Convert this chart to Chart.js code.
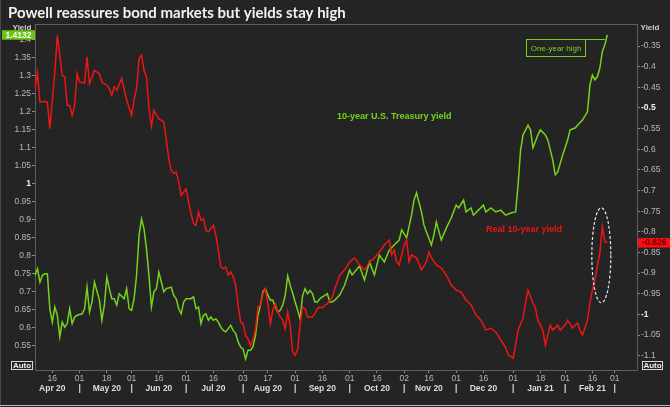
<!DOCTYPE html>
<html><head><meta charset="utf-8">
<script src="https://cdn.jsdelivr.net/npm/chart.js@4.4.1/dist/chart.umd.min.js"></script>
<style>html,body{margin:0;padding:0;background:#232323;}canvas{display:block;}</style>
</head><body>
<canvas id="c" width="670" height="407"></canvas>
<script>
// ---- categories: every weekday from 7 Apr 2020 to 12 Mar 2021 ----
const firstDay = '2020-04-07';
const lastDay = '2021-03-12';
const days = [];
for (let d = new Date(firstDay + 'T00:00:00Z'); d <= new Date(lastDay + 'T00:00:00Z'); d.setUTCDate(d.getUTCDate() + 1)) {
  const w = d.getUTCDay();
  if (w !== 0 && w !== 6) days.push(d.toISOString().slice(0, 10));
}

// ---- 10-year U.S. Treasury yield (left axis), one value per weekday ----
const usYield = [
  0.745, 0.763, 0.726, 0.745, 0.749, 0.749, 0.652, 0.615, 0.657, 0.634,
  0.574, 0.615, 0.601, 0.611, 0.652, 0.611, 0.629, 0.634, null, 0.638,
  0.652, 0.712, 0.643, 0.671, 0.726, null, 0.676, 0.620, 0.662, 0.740,
  0.708, 0.680, 0.680, 0.662, 0.694, null, 0.680, 0.708, 0.652, 0.648,
  0.680, 0.745, 0.856, 0.902, 0.874, 0.819, 0.745, 0.657, 0.699, 0.708,
  0.754, 0.726, 0.699, 0.708, null, 0.712, 0.689, 0.680, 0.652, 0.638,
  0.671, 0.680, null, 0.680, 0.685, 0.652, 0.657, 0.611, 0.634, 0.638,
  0.620, 0.629, 0.620, 0.624, 0.615, 0.601, 0.592, 0.588, 0.597, 0.606,
  0.592, 0.583, 0.560, 0.546, 0.540, 0.513, 0.537, 0.537, 0.546, 0.578,
  0.634, 0.662, 0.700, 0.708, 0.690, 0.676, 0.676, 0.657, 0.643, 0.648,
  0.662, 0.689, 0.743, 0.717, 0.696, 0.671, 0.649, 0.624, 0.688, 0.708,
  0.694, 0.703, 0.694, 0.671, 0.671, 0.680, 0.685, 0.689, 0.694, 0.671,
  0.671, 0.676, null, 0.690, null, 0.718, null, 0.760, 0.746, null,
  null, 0.771, null, 0.732, null, 0.782, null, 0.746, null, 0.801,
  null, 0.782, null, 0.815, null, 0.829, null, 0.843, 0.871, null,
  0.849, null, 0.912, 0.954, 0.974, null, 0.921, 0.885, 0.865, null,
  0.829, 0.857, 0.893, null, 0.843, null, 0.876, null, 0.904, null,
  0.940, 0.932, null, 0.954, 0.921, null, 0.932, 0.912, null, 0.926,
  null, 0.940, 0.921, null, 0.932, null, 0.921, null, 0.926, null,
  0.912, null, 0.918, null, 0.921, 0.996, 1.093, 1.135, null, 1.162,
  1.149, 1.099, null, 1.135, 1.149, null, 1.135, 1.121, null, 1.065,
  1.024, 1.032, null, 1.079, null, 1.121, 1.149, null, 1.154, 1.162,
  null, 1.176, null, 1.199, 1.274, 1.301, 1.288, 1.297, 1.320, 1.366,
  1.385, 1.4132
];

// ---- Real 10-year yield (right axis), one value per weekday ----
const realYield = [
  -0.452, -0.415, -0.486, null, -0.484, -0.487, -0.550, null, -0.413, -0.324,
  null, -0.421, -0.425, -0.494, -0.494, -0.518, -0.494, -0.417, -0.437, null,
  -0.440, -0.377, -0.441, null, -0.409, null, -0.417, -0.437, null, -0.445,
  -0.453, -0.469, -0.449, -0.457, null, -0.429, null, -0.481, null, -0.518,
  -0.480, -0.453, -0.381, -0.372, -0.409, -0.425, -0.500, -0.545, -0.506, null,
  -0.526, -0.530, -0.534, -0.578, -0.623, -0.651, -0.659, -0.655, -0.679, -0.712,
  -0.704, -0.696, -0.728, -0.756, -0.780, -0.784, -0.752, -0.772, -0.768, -0.796,
  -0.800, null, -0.784, -0.808, -0.845, -0.885, -0.889, -0.885, -0.905, -0.897,
  -0.909, -0.930, -0.978, -1.018, -1.023, -1.051, -1.060, -1.075, -1.060, -1.035,
  -0.982, -0.978, -0.950, -0.938, -0.975, -1.023, -0.990, -0.974, -0.994, -1.006,
  -1.014, -1.035, -0.994, -1.026, -1.091, -1.099, -1.085, -1.026, -0.982, -0.986,
  -1.006, -1.006, -1.006, -0.998, -0.986, -0.982, -0.984, -0.978, -0.974, -0.966,
  -0.958, -0.938, -0.922, -0.905, null, -0.892, null, -0.873, null, -0.863,
  null, -0.880, null, -0.892, null, -0.873, null, -0.863, null, -0.849,
  null, -0.832, null, -0.820, -0.856, -0.844, -0.873, -0.880, null, -0.832,
  -0.820, -0.873, -0.856, null, -0.863, null, -0.892, null, -0.873, -0.849,
  -0.863, null, -0.880, null, -0.888, null, -0.905, null, -0.929, null,
  -0.941, null, -0.946, null, -0.965, null, -0.977, null, -1.001, null,
  -1.014, null, -1.038, null, -1.033, null, -1.043, null, -1.062, null,
  -1.081, -1.098, null, -1.106, -1.074, -1.038, null, -1.009, -0.972, -0.941,
  null, -0.973, -0.985, -1.014, null, -1.038, -1.074, -1.050, -1.026, -1.038,
  null, -1.026, -1.038, null, -1.026, -1.014, null, -1.033, null, -1.021,
  -1.038, -1.050, null, -1.014, -0.973, -0.941, -0.917, -0.883, -0.851, -0.788,
  -0.824, -0.826
];

// ---- tick labels ----
const tickDates = ['2020-04-16','2020-05-01','2020-05-18','2020-06-01','2020-06-16','2020-07-01','2020-07-16','2020-08-03','2020-08-17','2020-09-01','2020-09-16','2020-10-01','2020-10-16','2020-11-02','2020-11-16','2020-12-01','2020-12-16','2021-01-01','2021-01-18','2021-02-01','2021-02-16','2021-03-01'];
const tickDayLabels = ['16','01','18','01','16','01','16','03','17','01','16','01','16','02','16','01','16','01','18','01','16','01'];
const tickMonthLabels = ['Apr 20','|','May 20','|','Jun 20','|','Jul 20','|','Aug 20','|','Sep 20','|','Oct 20','|','Nov 20','|','Dec 20','|','Jan 21','|','Feb 21','|'];
const leftTicks = [0.55,0.6,0.65,0.7,0.75,0.8,0.85,0.9,0.95,1,1.05,1.1,1.15,1.2,1.25,1.3,1.35,1.4];
const rightTicks = [-1.1,-1.05,-1,-0.95,-0.9,-0.85,-0.8,-0.75,-0.7,-0.65,-0.6,-0.55,-0.5,-0.45,-0.4,-0.35];

const GREEN = '#76d31c';
const RED = '#f01414';
const AX = '#5e5e5e';
const FONT = 'Liberation Sans';
const fmt = v => String(+v.toFixed(2));

const dateTicks = s => { s.ticks = tickDates.map(d => ({ value: days.indexOf(d) })); };

const bgPlugin = {
  id: 'bg',
  beforeDraw(c) {
    const g = c.ctx; g.save();
    g.fillStyle = '#242424'; g.fillRect(0, 0, c.width, c.height);
    g.restore();
  }
};

const annot = {
  id: 'annot',
  afterDraw(c) {
    const g = c.ctx, a = c.chartArea;
    const y1 = c.scales.y, y2 = c.scales.y2, x = c.scales.x;
    g.save();
    // frame
    g.strokeStyle = AX; g.lineWidth = 1;
    g.beginPath(); g.moveTo(a.left, a.top + 0.5); g.lineTo(a.right, a.top + 0.5); g.stroke();
    g.strokeStyle = '#4a4a4a';
    g.beginPath(); g.moveTo(0.5, 0); g.lineTo(0.5, c.height); g.stroke();
    g.strokeStyle = '#bdbdbd';
    g.beginPath(); g.moveTo(0, c.height - 1.5); g.lineTo(c.width, c.height - 1.5); g.stroke();
    // title
    g.fillStyle = '#f2f2f2'; g.font = 'bold 15px Lato'; g.textBaseline = 'alphabetic'; g.textAlign = 'left';
    g.fillText('Powell reassures bond markets but yields stay high', 8, 18);
    // Yield headers
    g.font = 'bold 8px ' + FONT; g.fillStyle = '#cfcfcf'; g.textBaseline = 'middle';
    g.textAlign = 'center'; g.fillText('Yield', 22, 28); g.fillText('Yield', 650, 28);
    // last value boxes
    const lastG = usYield[usYield.length - 1];
    const gy = y1.getPixelForValue(lastG);
    g.fillStyle = '#6cc417'; g.fillRect(2, gy - 4.5, a.left - 2, 9.5);
    g.fillStyle = '#f4fff0'; g.font = 'bold 8.5px ' + FONT; g.textAlign = 'center';
    g.fillText(lastG.toFixed(4), (2 + a.left) / 2, gy + 0.5);
    const lastR = realYield[realYield.length - 1];
    const ry = y2.getPixelForValue(lastR);
    g.fillStyle = '#ff0d0d'; g.fillRect(a.right + 1, ry - 4.5, c.width - a.right - 1, 9.5);
    g.fillStyle = '#5a0000'; g.fillText(lastR.toFixed(3), (a.right + c.width) / 2 + 1, ry + 0.5);
    // Auto boxes
    g.font = 'bold 8px ' + FONT; g.fillStyle = '#eeeeee'; g.strokeStyle = '#d8d8d8';
    g.strokeRect(11.5, 361.5, 21, 8); g.fillText('Auto', 22, 366);
    g.strokeRect(642.5, 361.5, 20, 8); g.fillText('Auto', 652.5, 366);
    // series labels
    g.font = 'bold 9px ' + FONT; g.textAlign = 'left';
    g.fillStyle = GREEN; g.fillText('10-year U.S. Treasury yield', 337, 117);
    g.fillStyle = RED; g.fillText('Real 10-year yield', 486, 230);
    // One-year high callout
    const hx = x.getPixelForValue(usYield.length - 2);
    g.strokeStyle = GREEN; g.lineWidth = 1;
    g.strokeRect(526.5, 39.5, 59, 17);
    g.beginPath(); g.moveTo(585.5, 39.5); g.lineTo(hx, 39.5); g.stroke();
    g.fillStyle = GREEN; g.font = '8px ' + FONT; g.textAlign = 'center';
    g.fillText('One-year high', 556, 48.5);
    // dashed ellipse around real-yield jump
    const ex = x.getPixelForValue(228.6), ey = y2.getPixelForValue(-0.857);
    g.setLineDash([3, 2]); g.strokeStyle = '#e8e8e8'; g.lineWidth = 1.2;
    g.beginPath(); g.ellipse(ex, ey, 9.5, 47.5, 0, 0, Math.PI * 2); g.stroke();
    g.restore();
  }
};

new Chart(document.getElementById('c'), {
  type: 'line',
  data: {
    labels: days,
    datasets: [
      { label: 'Real 10-year yield', data: realYield, yAxisID: 'y2', xAxisID: 'x', borderColor: RED, borderWidth: 1.5, pointRadius: 0, spanGaps: true, tension: 0 },
      { label: '10-year U.S. Treasury yield', data: usYield, yAxisID: 'y', xAxisID: 'x', borderColor: GREEN, borderWidth: 1.5, pointRadius: 0, spanGaps: true, tension: 0 }
    ]
  },
  options: {
    responsive: false, animation: false, devicePixelRatio: 1,
    layout: { padding: { top: 24, left: 0, right: 0, bottom: 0 } },
    plugins: { legend: { display: false }, tooltip: { enabled: false }, title: { display: false } },
    scales: {
      x: {
        type: 'category', position: 'bottom', offset: false,
        grid: { drawOnChartArea: false, drawTicks: true, tickLength: 3, color: '#8a8a8a' },
        border: { display: true, color: AX },
        ticks: { autoSkip: false, maxRotation: 0, padding: 1, color: '#b4b4b4', font: { family: FONT, size: 8.5 }, callback: (v, i) => tickDayLabels[i] },
        afterBuildTicks: dateTicks,
        afterFit: s => { s.height = 14; }
      },
      x2: {
        type: 'category', position: 'bottom', offset: false,
        grid: { display: false, drawTicks: false }, border: { display: false },
        ticks: { autoSkip: false, maxRotation: 0, padding: 0, color: '#dcdcdc', font: { family: FONT, size: 8.5, weight: 'bold' }, callback: (v, i) => tickMonthLabels[i] },
        afterBuildTicks: dateTicks,
        afterFit: s => { s.height = 23; }
      },
      y: {
        type: 'linear', position: 'left', min: 0.482, max: 1.443,
        grid: { drawOnChartArea: false, tickLength: 3, color: '#8a8a8a' },
        border: { display: true, color: AX },
        ticks: { padding: 1, autoSkip: false, color: ctx => ctx.tick && ctx.tick.value === 1 ? '#f0f0f0' : '#b8b8b8',
          font: ctx => ({ family: FONT, size: 8.5, weight: ctx.tick && ctx.tick.value === 1 ? 'bold' : 'normal' }), callback: v => fmt(v) },
        afterBuildTicks: s => { s.ticks = leftTicks.map(v => ({ value: v })); },
        afterFit: s => { s.width = 35; }
      },
      y2: {
        type: 'linear', position: 'right', min: -1.1346, max: -0.2967,
        grid: { drawOnChartArea: false, tickLength: 3, color: '#8a8a8a' },
        border: { display: true, color: AX },
        ticks: { padding: 1, autoSkip: false, color: ctx => ctx.tick && (ctx.tick.value === -1 || ctx.tick.value === -0.5) ? '#f0f0f0' : '#b8b8b8',
          font: ctx => ({ family: FONT, size: 8.5, weight: ctx.tick && (ctx.tick.value === -1 || ctx.tick.value === -0.5) ? 'bold' : 'normal' }), callback: v => fmt(v) },
        afterBuildTicks: s => { s.ticks = rightTicks.map(v => ({ value: v })); },
        afterFit: s => { s.width = 33; }
      }
    }
  },
  plugins: [bgPlugin, annot]
});
</script>
</body></html>
